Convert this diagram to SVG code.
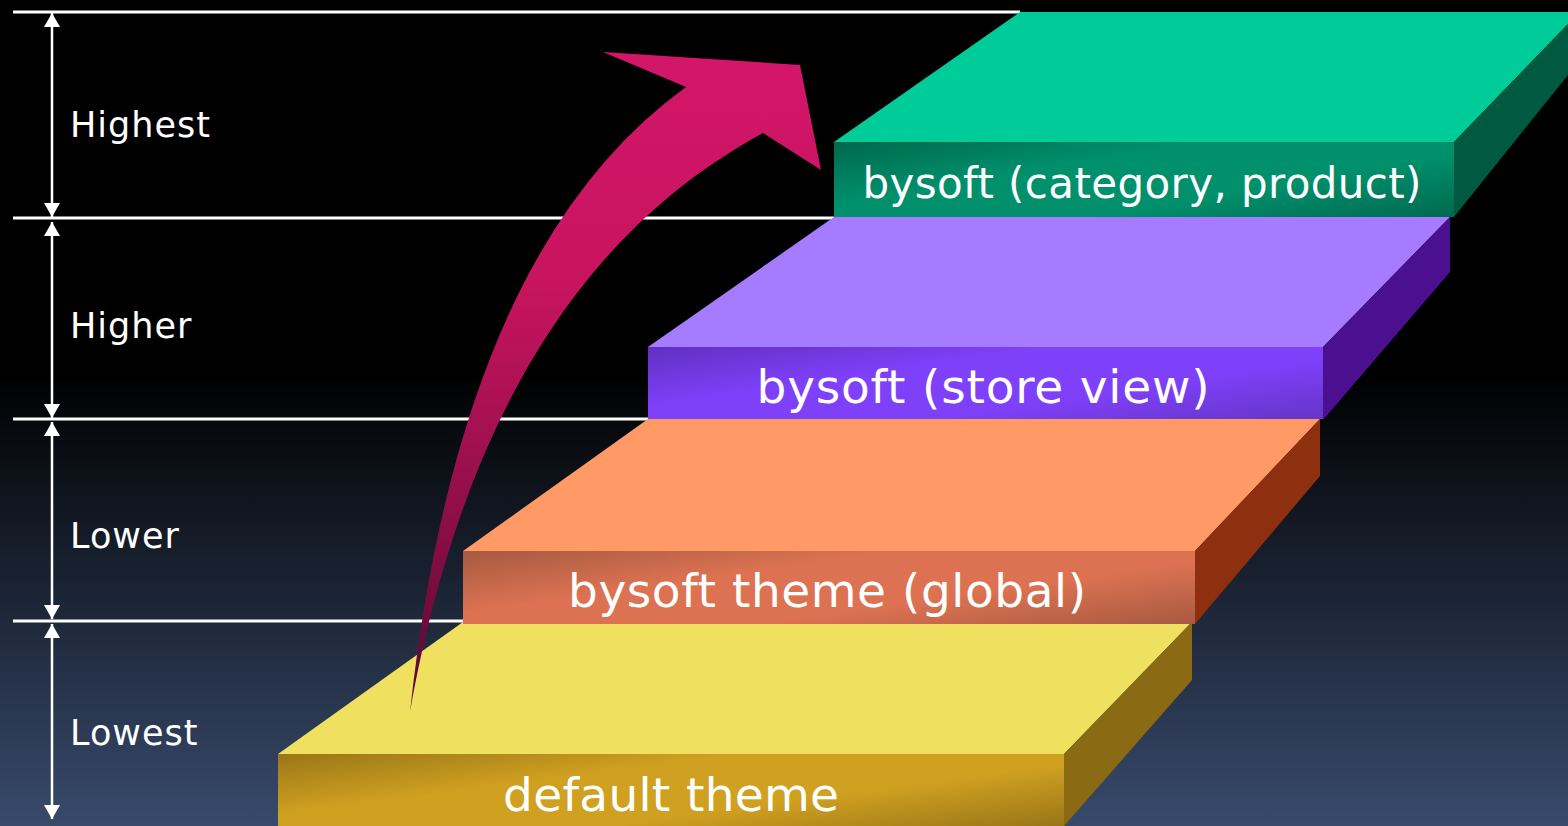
<svg xmlns="http://www.w3.org/2000/svg" width="1568" height="826" viewBox="0 0 1568 826">
  <defs>
    <linearGradient id="bg" x1="0" y1="0" x2="0" y2="1">
      <stop offset="0" stop-color="#000000"/>
      <stop offset="0.45" stop-color="#000000"/>
      <stop offset="1" stop-color="#384a6c"/>
    </linearGradient>
    <linearGradient id="arrowGrad" gradientUnits="userSpaceOnUse" x1="0" y1="50" x2="0" y2="712">
      <stop offset="0" stop-color="#d3166a"/>
      <stop offset="0.35" stop-color="#c8145f"/>
      <stop offset="0.6" stop-color="#a0104f"/>
      <stop offset="1" stop-color="#580832"/>
    </linearGradient>
    <linearGradient id="gGreen" x1="0" y1="0" x2="1.14" y2="0.79">
      <stop offset="0" stop-color="#00684c"/>
      <stop offset="0.35" stop-color="#00906c"/>
      <stop offset="0.65" stop-color="#00906c"/>
      <stop offset="1" stop-color="#006a50"/>
    </linearGradient>
    <linearGradient id="gPurple" x1="0" y1="0" x2="1.14" y2="0.79">
      <stop offset="0" stop-color="#6030c0"/>
      <stop offset="0.35" stop-color="#7f40fa"/>
      <stop offset="0.65" stop-color="#7f40fa"/>
      <stop offset="1" stop-color="#6535c8"/>
    </linearGradient>
    <linearGradient id="gOrange" x1="0" y1="0" x2="1.14" y2="0.79">
      <stop offset="0" stop-color="#a65a40"/>
      <stop offset="0.35" stop-color="#dc7252"/>
      <stop offset="0.65" stop-color="#dc7252"/>
      <stop offset="1" stop-color="#a85a40"/>
    </linearGradient>
    <linearGradient id="gYellow" x1="0" y1="0" x2="1.14" y2="0.79">
      <stop offset="0" stop-color="#9a7618"/>
      <stop offset="0.35" stop-color="#d0a020"/>
      <stop offset="0.65" stop-color="#d0a020"/>
      <stop offset="1" stop-color="#9a7618"/>
    </linearGradient>
    <marker id="ah" viewBox="0 0 14 16" refX="14" refY="8" markerWidth="14" markerHeight="16" markerUnits="userSpaceOnUse" orient="auto-start-reverse">
      <path d="M0,0 L14,8 L0,16 Z" fill="#ffffff"/>
    </marker>
    <style>
      .hline { stroke: #ffffff; stroke-width: 3; }
      .vline { stroke: #ffffff; stroke-width: 2.5; marker-start: url(#ah); marker-end: url(#ah); }
      .lvl { font-family: "DejaVu Sans", Verdana, sans-serif; font-size: 35px; fill: #ffffff; letter-spacing: 1px; }
      .step { font-family: "DejaVu Sans", Verdana, sans-serif; font-size: 47px; fill: #ffffff; text-anchor: middle; }
      .step.small { font-size: 42px; }
    </style>
  </defs>

  <rect x="0" y="0" width="1568" height="826" fill="url(#bg)"/>

  <g id="level-lines">
    <line class="hline" x1="13" y1="12" x2="1020" y2="12"/>
    <line class="hline" x1="13" y1="218" x2="834" y2="218"/>
    <line class="hline" x1="13" y1="419" x2="648" y2="419"/>
    <line class="hline" x1="13" y1="621" x2="463" y2="621"/>
  </g>

  <g id="connectors">
    <line class="vline" x1="52" y1="13" x2="52" y2="217"/>
    <line class="vline" x1="52" y1="222" x2="52" y2="418"/>
    <line class="vline" x1="52" y1="422" x2="52" y2="619"/>
    <line class="vline" x1="52" y1="624" x2="52" y2="819"/>
  </g>

  <g id="level-labels">
    <text class="lvl" x="70" y="137">Highest</text>
    <text class="lvl" x="70" y="338">Higher</text>
    <text class="lvl" x="70" y="548">Lower</text>
    <text class="lvl" x="70" y="745">Lowest</text>
  </g>

  <g id="step-default">
    <polygon points="278,754 463,622 1192,622 1064,754" fill="#f0e060"/>
    <polygon points="1064,754 1192,622 1192,680 1064,826" fill="#8a6a12"/>
    <rect x="278" y="754" width="786" height="72" fill="url(#gYellow)"/>
    <text class="step" x="671" y="811" textLength="336" lengthAdjust="spacing">default theme</text>
  </g>

  <g id="step-global">
    <polygon points="463,551 648,419 1320,419 1195,551" fill="#ff9966"/>
    <polygon points="1195,551 1320,419 1320,476 1195,624" fill="#8e3010"/>
    <rect x="463" y="551" width="732" height="73" fill="url(#gOrange)"/>
    <text class="step" x="827" y="607" textLength="518" lengthAdjust="spacing">bysoft theme (global)</text>
  </g>

  <g id="step-storeview">
    <polygon points="648,347 834,217 1450,217 1323,347" fill="#a57cff"/>
    <polygon points="1323,347 1450,217 1450,272 1323,420" fill="#4b1090"/>
    <rect x="648" y="347" width="675" height="72" fill="url(#gPurple)"/>
    <text class="step" x="983" y="403" textLength="453" lengthAdjust="spacing">bysoft (store view)</text>
  </g>

  <g id="step-category">
    <polygon points="834,142 1020,12 1568,12 1568,24 1454,142" fill="#00cc99"/>
    <polygon points="1454,142 1568,24 1568,75 1454,217" fill="#005a42"/>
    <rect x="834" y="142" width="620" height="75" fill="url(#gGreen)"/>
    <text class="step small" x="1142" y="198" textLength="559" lengthAdjust="spacing">bysoft (category, product)</text>
  </g>

  <g id="priority-arrow">
    <path d="M410,712 Q460,250 686,87 L603,52 L800,65 L821,170 L763,133 C660,190 480,320 410,712 Z" fill="url(#arrowGrad)"/>
  </g>
</svg>
